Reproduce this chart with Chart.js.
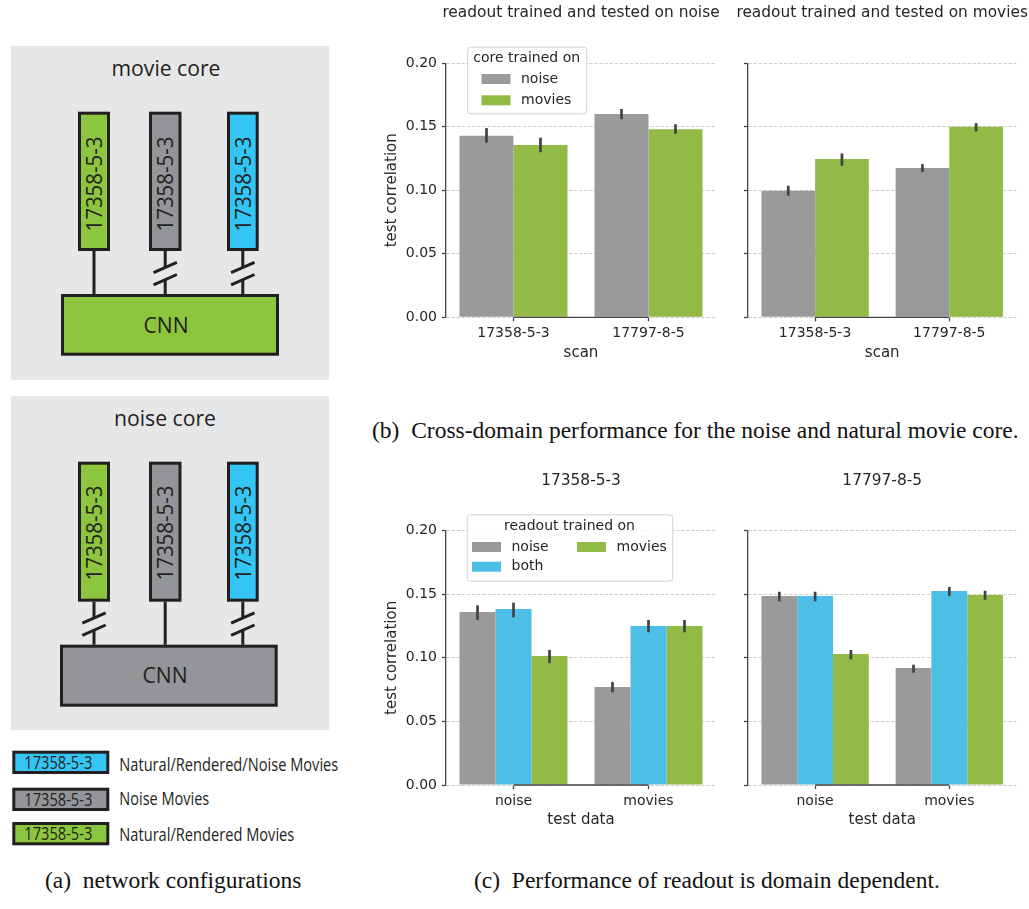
<!DOCTYPE html>
<html>
<head>
<meta charset="utf-8">
<script src="https://cdn.jsdelivr.net/npm/chart.js@4.4.0/dist/chart.umd.min.js"></script>
<style>
html, body { margin: 0; padding: 0; background: #fff; }
body { width: 1029px; height: 909px; position: relative; overflow: hidden; }
canvas { position: absolute; }
.cap { position: absolute; font-family: "Liberation Serif", serif; font-size: 23.5px; line-height: 26px; color: #111; white-space: pre; }
svg { position: absolute; left: 0; top: 0; }
svg text { font-family: "Open Sans", sans-serif; fill: #231f20; }
</style>
</head>
<body>

<!-- (a) network configurations -->
<svg width="340" height="860">
  <rect x="11" y="46" width="318" height="334" fill="#e6e7e8"/>
  <text x="166" y="75.5" font-size="21.5" text-anchor="middle" textLength="109" lengthAdjust="spacingAndGlyphs">movie core</text>
  <g stroke="#231f20" stroke-width="3">
    <rect x="79.5" y="113.2" width="29" height="136.3" fill="#8cc63f"/>
    <rect x="150.5" y="113.2" width="29.5" height="136.3" fill="#939598"/>
    <rect x="228.5" y="113.2" width="28.7" height="136.3" fill="#33c5f3"/>
    <line x1="94" y1="251" x2="94" y2="294"/>
    <line x1="165.2" y1="251" x2="165.2" y2="267"/>
    <line x1="165.2" y1="280" x2="165.2" y2="294"/>
    <line x1="153.5" y1="272.7" x2="176.9" y2="262.3"/>
    <line x1="153.5" y1="284.9" x2="176.9" y2="274.5"/>
    <line x1="242.8" y1="251" x2="242.8" y2="267"/>
    <line x1="242.8" y1="280" x2="242.8" y2="294"/>
    <line x1="231.1" y1="272.7" x2="254.5" y2="262.3"/>
    <line x1="231.1" y1="284.9" x2="254.5" y2="274.5"/>
    <rect x="62.5" y="295.5" width="215" height="58.7" fill="#8cc63f"/>
  </g>
  <g transform="translate(94,184) rotate(-90)"><text x="0" y="8" font-size="22.5" text-anchor="middle" textLength="95" lengthAdjust="spacingAndGlyphs">17358-5-3</text></g>
  <g transform="translate(165.2,184) rotate(-90)"><text x="0" y="8" font-size="22.5" text-anchor="middle" textLength="95" lengthAdjust="spacingAndGlyphs">17358-5-3</text></g>
  <g transform="translate(242.8,184) rotate(-90)"><text x="0" y="8" font-size="22.5" text-anchor="middle" textLength="95" lengthAdjust="spacingAndGlyphs">17358-5-3</text></g>
  <text x="166" y="333" font-size="22.5" text-anchor="middle" textLength="45" lengthAdjust="spacingAndGlyphs">CNN</text>

  <rect x="11" y="396" width="318" height="334" fill="#e6e7e8"/>
  <text x="165" y="425.7" font-size="21.5" text-anchor="middle" textLength="102" lengthAdjust="spacingAndGlyphs">noise core</text>
  <g stroke="#231f20" stroke-width="3">
    <rect x="79.5" y="463.2" width="29" height="137" fill="#8cc63f"/>
    <rect x="150.5" y="463.2" width="29.5" height="137" fill="#939598"/>
    <rect x="228.5" y="463.2" width="28.7" height="137" fill="#33c5f3"/>
    <line x1="94" y1="601.7" x2="94" y2="617.5"/>
    <line x1="94" y1="630.5" x2="94" y2="644.7"/>
    <line x1="82.3" y1="623.2" x2="105.7" y2="612.8"/>
    <line x1="82.3" y1="635.4" x2="105.7" y2="625"/>
    <line x1="165.2" y1="601.7" x2="165.2" y2="644.7"/>
    <line x1="242.8" y1="601.7" x2="242.8" y2="617.5"/>
    <line x1="242.8" y1="630.5" x2="242.8" y2="644.7"/>
    <line x1="231.1" y1="623.2" x2="254.5" y2="612.8"/>
    <line x1="231.1" y1="635.4" x2="254.5" y2="625"/>
    <rect x="61.5" y="646.2" width="214.7" height="59" fill="#939598"/>
  </g>
  <g transform="translate(94,533) rotate(-90)"><text x="0" y="8" font-size="22.5" text-anchor="middle" textLength="95" lengthAdjust="spacingAndGlyphs">17358-5-3</text></g>
  <g transform="translate(165.2,533) rotate(-90)"><text x="0" y="8" font-size="22.5" text-anchor="middle" textLength="95" lengthAdjust="spacingAndGlyphs">17358-5-3</text></g>
  <g transform="translate(242.8,533) rotate(-90)"><text x="0" y="8" font-size="22.5" text-anchor="middle" textLength="95" lengthAdjust="spacingAndGlyphs">17358-5-3</text></g>
  <text x="165" y="683.3" font-size="22.5" text-anchor="middle" textLength="45" lengthAdjust="spacingAndGlyphs">CNN</text>

  <g stroke="#231f20" stroke-width="3">
    <rect x="13.8" y="752.2" width="94" height="20.3" fill="#33c5f3"/>
    <rect x="13.8" y="789.2" width="94" height="20.3" fill="#939598"/>
    <rect x="13.8" y="823.5" width="94" height="20.3" fill="#8cc63f"/>
  </g>
  <text x="58.3" y="768.5" font-size="17.5" text-anchor="middle" textLength="68" lengthAdjust="spacingAndGlyphs">17358-5-3</text>
  <text x="58.3" y="805.7" font-size="17.5" text-anchor="middle" textLength="68" lengthAdjust="spacingAndGlyphs">17358-5-3</text>
  <text x="58.3" y="839.5" font-size="17.5" text-anchor="middle" textLength="68" lengthAdjust="spacingAndGlyphs">17358-5-3</text>
  <text x="119.3" y="770.7" font-size="17.5" textLength="219" lengthAdjust="spacingAndGlyphs">Natural/Rendered/Noise Movies</text>
  <text x="119.3" y="805" font-size="17.5" textLength="90" lengthAdjust="spacingAndGlyphs">Noise Movies</text>
  <text x="119.3" y="840.7" font-size="17.5" textLength="175" lengthAdjust="spacingAndGlyphs">Natural/Rendered Movies</text>
</svg>
<div class="cap" style="left:45px;top:867px">(a)  network configurations</div>

<canvas id="chartB1" width="402" height="370" style="left:380px;top:0px"></canvas>
<canvas id="chartB2" width="324" height="370" style="left:720px;top:0px"></canvas>
<div class="cap" style="left:372px;top:417px">(b)  Cross-domain performance for the noise and natural movie core.</div>

<canvas id="chartC1" width="402" height="380" style="left:380px;top:460px"></canvas>
<canvas id="chartC2" width="324" height="380" style="left:720px;top:460px"></canvas>
<div class="cap" style="left:474px;top:867px">(c)  Performance of readout is domain dependent.</div>

<script>
// categories and ticks
const scans = ['17358-5-3', '17797-8-5'];
const testSets = ['noise', 'movies'];
const coreNames = ['noise', 'movies'];
const readoutNames = ['noise', 'both', 'movies'];
const yTickValues = [0, 0.05, 0.10, 0.15, 0.20];

// (b) left: readout trained and tested on noise
const bNoiseNoiseCore = [0.143, 0.160];
const bNoiseNoiseCoreLo = [0.1375, 0.156];
const bNoiseNoiseCoreHi = [0.149, 0.164];
const bNoiseMovieCore = [0.1357, 0.148];
const bNoiseMovieCoreLo = [0.130, 0.1445];
const bNoiseMovieCoreHi = [0.1414, 0.152];

// (b) right: readout trained and tested on movies
const bMovieNoiseCore = [0.0997, 0.1176];
const bMovieNoiseCoreLo = [0.0957, 0.1143];
const bMovieNoiseCoreHi = [0.1036, 0.1206];
const bMovieMovieCore = [0.1247, 0.150];
const bMovieMovieCoreLo = [0.1193, 0.1464];
const bMovieMovieCoreHi = [0.129, 0.1529];

// (c) left: scan 17358-5-3, by test data
const c1Noise = [0.136, 0.0771];
const c1NoiseLo = [0.1298, 0.0729];
const c1NoiseHi = [0.1413, 0.081];
const c1Both = [0.1384, 0.125];
const c1BothLo = [0.1319, 0.1201];
const c1BothHi = [0.1434, 0.1298];
const c1Movies = [0.1015, 0.125];
const c1MoviesLo = [0.0959, 0.1201];
const c1MoviesHi = [0.1062, 0.1298];

// (c) right: scan 17797-8-5
const c2Noise = [0.1486, 0.092];
const c2NoiseLo = [0.1445, 0.0883];
const c2NoiseHi = [0.152, 0.0946];
const c2Both = [0.1486, 0.1526];
const c2BothLo = [0.1445, 0.1486];
const c2BothHi = [0.152, 0.1557];
const c2Movies = [0.103, 0.1494];
const c2MoviesLo = [0.0989, 0.1457];
const c2MoviesHi = [0.1062, 0.1528];

const GRAY = '#9a9a9a', GREEN = '#93b947', BLUE = '#4dbee6';
const TEXT = '#262626', SPINE = '#454545';

Chart.defaults.font.family = '"DejaVu Sans"';
Chart.defaults.color = TEXT;

// error bars from each dataset's lo/hi arrays
const errorBars = {
  id: 'errorBars',
  afterDatasetsDraw(chart) {
    const ctx = chart.ctx, y = chart.scales.y;
    ctx.save();
    ctx.strokeStyle = '#424242';
    ctx.lineWidth = 2.7;
    chart.data.datasets.forEach((ds, i) => {
      chart.getDatasetMeta(i).data.forEach((bar, j) => {
        ctx.beginPath();
        ctx.moveTo(bar.x, y.getPixelForValue(ds.lo[j]));
        ctx.lineTo(bar.x, y.getPixelForValue(ds.hi[j]));
        ctx.stroke();
      });
    });
    ctx.restore();
  }
};

// bottom spine trimmed to first..last tick (seaborn despine trim)
const trimSpine = {
  id: 'trimSpine',
  afterDatasetsDraw(chart) {
    const x = chart.scales.x, a = chart.chartArea, ctx = chart.ctx;
    ctx.save();
    ctx.strokeStyle = SPINE;
    ctx.lineWidth = 1.3;
    ctx.beginPath();
    ctx.moveTo(x.getPixelForTick(0), a.bottom);
    ctx.lineTo(x.getPixelForTick(x.ticks.length - 1), a.bottom);
    ctx.stroke();
    ctx.restore();
  }
};

// axes title centred over the plot area (like matplotlib ax.set_title)
const panelTitle = {
  id: 'panelTitle',
  afterDraw(chart, args, opts) {
    const a = chart.chartArea, ctx = chart.ctx;
    ctx.save();
    ctx.font = '15.4px "DejaVu Sans"';
    ctx.fillStyle = TEXT;
    ctx.textAlign = 'center';
    ctx.textBaseline = 'middle';
    ctx.fillText(opts.text, (a.left + a.right) / 2, opts.y);
    ctx.restore();
  }
};

// matplotlib style legend box inside the axes
const boxLegend = {
  id: 'boxLegend',
  afterDraw(chart, args, opts) {
    if (!opts.title) return;
    const a = chart.chartArea, ctx = chart.ctx;
    const bx = a.left + opts.dx, by = a.top + opts.dy;
    ctx.save();
    ctx.fillStyle = 'rgba(255,255,255,0.85)';
    ctx.strokeStyle = '#d0d0d0';
    ctx.lineWidth = 1;
    ctx.beginPath();
    ctx.roundRect(bx + 0.5, by + 0.5, opts.w, opts.h, 3);
    ctx.fill();
    ctx.stroke();
    ctx.font = '14px "DejaVu Sans"';
    ctx.textBaseline = 'middle';
    ctx.fillStyle = TEXT;
    ctx.textAlign = 'center';
    ctx.fillText(opts.title, bx + opts.w / 2, by + opts.titleY);
    ctx.textAlign = 'left';
    opts.items.forEach(it => {
      const ds = chart.data.datasets[it.ds];
      const sx = bx + opts.swatchX + it.col * opts.colW;
      const sy = by + opts.rowY[it.row];
      ctx.fillStyle = ds.backgroundColor;
      ctx.fillRect(sx, sy - 5, 29, 10);
      ctx.fillStyle = TEXT;
      ctx.fillText(ds.label, sx + 39.5, sy);
    });
    ctx.restore();
  }
};

function makeChart(id, cfg) {
  const ctx = document.getElementById(id).getContext('2d');
  return new Chart(ctx, {
    type: 'bar',
    data: {
      labels: cfg.labels,
      datasets: cfg.datasets.map(d => ({
        label: d.label,
        data: d.data,
        lo: d.lo,
        hi: d.hi,
        backgroundColor: d.color,
        borderWidth: 0,
        categoryPercentage: 0.8,
        barPercentage: 1.0
      }))
    },
    options: {
      responsive: false,
      animation: false,
      layout: { padding: { left: 0, right: cfg.padRight, top: cfg.padTop, bottom: cfg.padBottom } },
      plugins: {
        legend: { display: false },
        tooltip: { enabled: false },
        title: { display: false },
        panelTitle: { text: cfg.title, y: cfg.titleY },
        boxLegend: cfg.legend || {}
      },
      scales: {
        x: {
          ticks: { font: { size: 14 }, padding: 3.6, color: TEXT },
          grid: {
            display: true, drawOnChartArea: false, offset: false,
            tickLength: 4, tickColor: SPINE, tickWidth: 1.3
          },
          border: { display: false },
          title: {
            display: true, text: cfg.xTitle, color: TEXT,
            font: { size: 15 }, padding: { top: 0, bottom: 3.6 }
          },
          afterFit: s => { s.height = 48; }
        },
        y: {
          min: 0,
          max: 0.2,
          afterBuildTicks: s => { s.ticks = yTickValues.map(v => ({ value: v })); },
          ticks: {
            font: { size: 14 }, padding: 5, color: TEXT,
            callback: v => cfg.showY ? v.toFixed(2) : ''
          },
          grid: {
            color: '#cfcfcf', lineWidth: 1,
            tickLength: 4, tickColor: SPINE, tickWidth: 1.3, tickBorderDash: []
          },
          border: { display: true, color: SPINE, width: 1.3, dash: [3.5, 1.6] },
          title: {
            display: cfg.showY, text: 'test correlation', color: TEXT,
            font: { size: 15 }, padding: { top: 3, bottom: 0 }
          },
          afterFit: s => { s.width = cfg.yWidth; }
        }
      }
    },
    plugins: [errorBars, trimSpine, panelTitle, boxLegend]
  });
}

// (b) cross-domain
makeChart('chartB1', {
  labels: scans, title: 'readout trained and tested on noise', xTitle: 'scan',
  showY: true, yWidth: 66, padRight: 66, padTop: 63.3, padBottom: 4.7, titleY: 13,
  datasets: [
    { label: coreNames[0], data: bNoiseNoiseCore, lo: bNoiseNoiseCoreLo, hi: bNoiseNoiseCoreHi, color: GRAY },
    { label: coreNames[1], data: bNoiseMovieCore, lo: bNoiseMovieCoreLo, hi: bNoiseMovieCoreHi, color: GREEN }
  ],
  legend: {
    title: 'core trained on', dx: 21.2, dy: -16.6, w: 119, h: 66.6, titleY: 12,
    swatchX: 14.3, colW: 0, rowY: [32.3, 53.6],
    items: [{ ds: 0, col: 0, row: 0 }, { ds: 1, col: 0, row: 1 }]
  }
});
makeChart('chartB2', {
  labels: scans, title: 'readout trained and tested on movies', xTitle: 'scan',
  showY: false, yWidth: 28, padRight: 27.6, padTop: 63.3, padBottom: 4.7, titleY: 13,
  datasets: [
    { label: coreNames[0], data: bMovieNoiseCore, lo: bMovieNoiseCoreLo, hi: bMovieNoiseCoreHi, color: GRAY },
    { label: coreNames[1], data: bMovieMovieCore, lo: bMovieMovieCoreLo, hi: bMovieMovieCoreHi, color: GREEN }
  ]
});

// (c) readout domain dependence
makeChart('chartC1', {
  labels: testSets, title: scans[0], xTitle: 'test data',
  showY: true, yWidth: 66, padRight: 66, padTop: 70.7, padBottom: 7, titleY: 20.7,
  datasets: [
    { label: readoutNames[0], data: c1Noise, lo: c1NoiseLo, hi: c1NoiseHi, color: GRAY },
    { label: readoutNames[1], data: c1Both, lo: c1BothLo, hi: c1BothHi, color: BLUE },
    { label: readoutNames[2], data: c1Movies, lo: c1MoviesLo, hi: c1MoviesHi, color: GREEN }
  ],
  legend: {
    title: 'readout trained on', dx: 20.7, dy: -16.4, w: 205.6, h: 66.4, titleY: 11.7,
    swatchX: 5.3, colW: 105, rowY: [32.7, 52.4],
    items: [{ ds: 0, col: 0, row: 0 }, { ds: 1, col: 0, row: 1 }, { ds: 2, col: 1, row: 0 }]
  }
});
makeChart('chartC2', {
  labels: testSets, title: scans[1], xTitle: 'test data',
  showY: false, yWidth: 28, padRight: 27.6, padTop: 70.7, padBottom: 7, titleY: 20.7,
  datasets: [
    { label: readoutNames[0], data: c2Noise, lo: c2NoiseLo, hi: c2NoiseHi, color: GRAY },
    { label: readoutNames[1], data: c2Both, lo: c2BothLo, hi: c2BothHi, color: BLUE },
    { label: readoutNames[2], data: c2Movies, lo: c2MoviesLo, hi: c2MoviesHi, color: GREEN }
  ]
});
</script>
</body>
</html>
